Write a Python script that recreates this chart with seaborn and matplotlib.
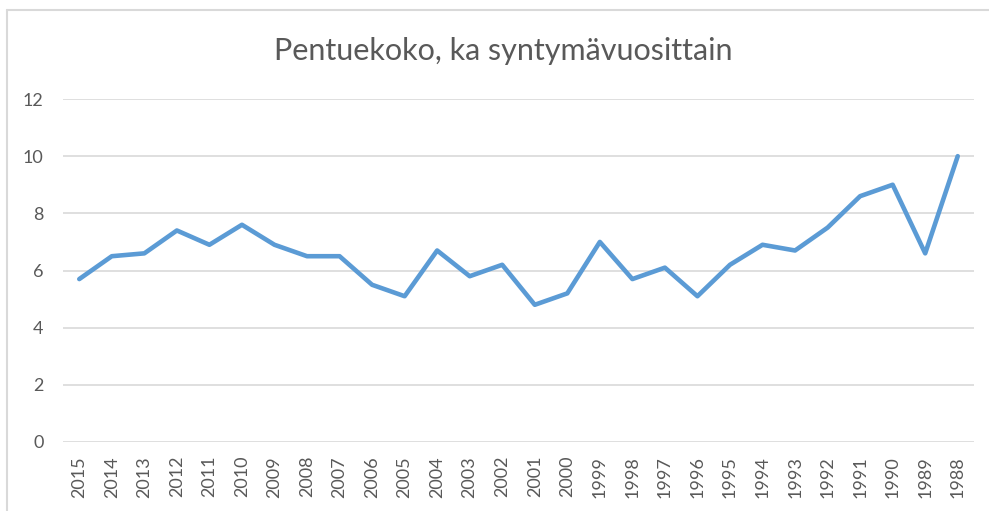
"""
Pentuekoko, ka syntymävuosittain - line chart
"""
import matplotlib
matplotlib.use("Agg")
import matplotlib.pyplot as plt
from matplotlib.lines import Line2D
import pandas as pd
import seaborn as sns

years = [str(y) for y in range(2015, 1987, -1)]
litter_size = [5.7, 6.5, 6.6, 7.4, 6.9, 7.6, 6.9, 6.5, 6.5, 5.5, 5.1, 6.7, 5.8, 6.2,
               4.8, 5.2, 7.0, 5.7, 6.1, 5.1, 6.2, 6.9, 6.7, 7.5, 8.6, 9.0, 6.6, 10.0]
y_ticks = [0, 2, 4, 6, 8, 10, 12]
title = "Pentuekoko, ka syntymävuosittain"

LINE_COLOR = "#5b9bd5"
TEXT_COLOR = "#595959"
GRID_COLOR = "#d9d9d9"

sns.set_theme(style="white")
plt.rcParams["font.family"] = ["Lato", "DejaVu Sans"]

df = pd.DataFrame({"vuosi": years, "koko": litter_size})

fig = plt.figure(figsize=(9.89, 5.11), dpi=100)
ax = fig.add_axes([63 / 989, 1 - 442 / 511, (974 - 63) / 989, (442 - 99) / 511])

sns.lineplot(data=df, x="vuosi", y="koko", sort=False, ax=ax,
             color=LINE_COLOR, linewidth=3.3, solid_capstyle="round",
             solid_joinstyle="round")

ax.set_xlim(-0.5, len(years) - 0.5)
ax.set_ylim(0, 12)
ax.set_yticks(y_ticks)
ax.set_yticklabels([str(t) for t in y_ticks])
ax.set_xlabel("")
ax.set_ylabel("")
for s in ax.spines.values():
    s.set_visible(False)
ax.grid(axis="y", color=GRID_COLOR, linewidth=1.2)
ax.set_axisbelow(True)
ax.tick_params(axis="y", length=0, pad=14, labelsize=13, labelcolor=TEXT_COLOR)
ax.tick_params(axis="x", length=0, pad=10, labelsize=13, labelcolor=TEXT_COLOR,
               labelrotation=90)

fig.text(503 / 989, 1 - 51 / 511, title, ha="center", va="center",
         fontsize=22, color=TEXT_COLOR)

# chart frame (left and top edges visible)
fig.add_artist(Line2D([7 / 989, 7 / 989], [0, 1 - 10 / 511],
                      transform=fig.transFigure, color=GRID_COLOR, linewidth=1.5))
fig.add_artist(Line2D([7 / 989, 1], [1 - 10 / 511, 1 - 10 / 511],
                      transform=fig.transFigure, color=GRID_COLOR, linewidth=1.5))

fig.savefig("out.png", dpi=100)
plt.close(fig)
